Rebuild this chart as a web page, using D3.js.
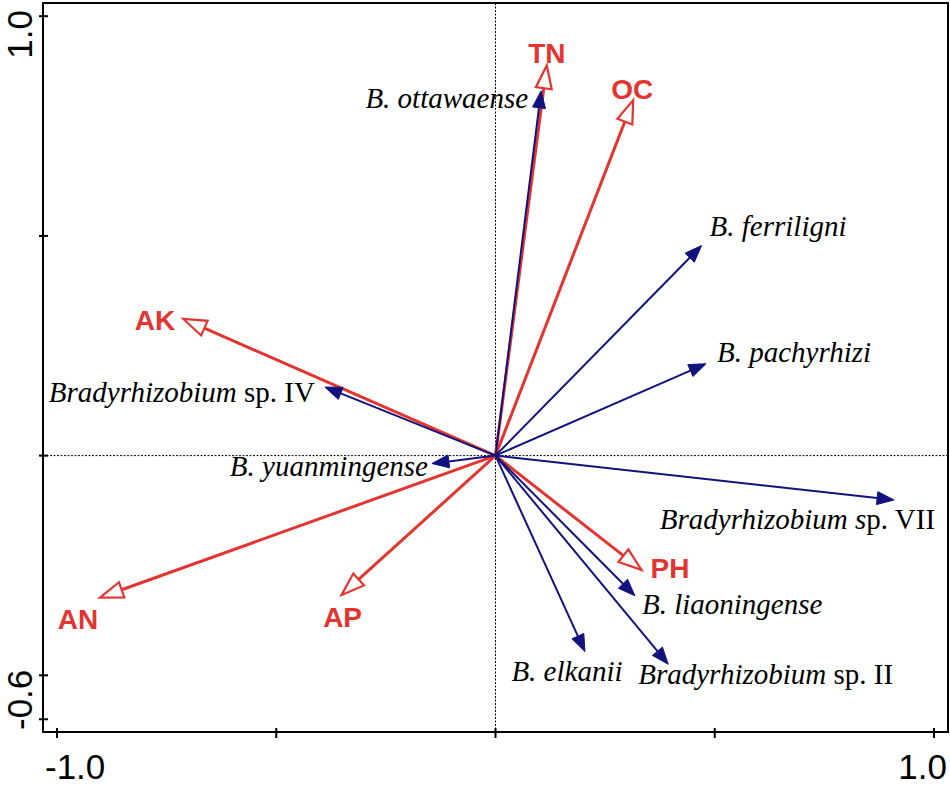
<!DOCTYPE html>
<html>
<head>
<meta charset="utf-8">
<script src="https://cdn.jsdelivr.net/npm/d3@7"></script>
<style>
  body { margin: 0; background: #fff; }
  svg { display: block; }
</style>
</head>
<body>
<svg id="chart" width="950" height="788"></svg>
<script>
// environmental variables (red, open heads)
const envNames = ['TN', 'OC', 'AK', 'AN', 'AP', 'PH'];
const envX = [0.117, 0.314, -0.712, -0.902, -0.351, 0.333];
const envY = [0.888, 0.809, 0.311, -0.323, -0.317, -0.260];

// species (blue, filled heads): italic part + plain part of the label
const spItalic = ['B. ottawaense', 'B. ferriligni', 'B. pachyrhizi', 'Bradyrhizobium', 'B. yuanmingense',
                  'Bradyrhizobium s', 'B. liaoningense', 'B. elkanii', 'Bradyrhizobium'];
const spPlain  = ['', '', '', ' sp. IV', '', 'p. VII', '', '', ' sp. II'];
const spX = [0.104, 0.470, 0.480, -0.389, -0.145, 0.909, 0.318, 0.204, 0.394];
const spY = [0.830, 0.478, 0.209, 0.156, -0.018, -0.101, -0.319, -0.446, -0.475];

const xTicks = [-1.0, -0.5, 0, 0.5, 1.0];
const yTicks = [1.0, 0.5, 0, -0.5, -0.6];
const xTickLabels = ['-1.0', '1.0'];
const yTickLabels = ['1.0', '-0.6'];

const red = '#e4342f';
const navy = '#12127e';

// label placement relative to arrow tip: [dx, dy, anchor]
const envLabelPos = {
  TN: [0, -2, 'middle'], OC: [-1, -1, 'middle'], AK: [-8, 11, 'end'],
  AN: [-22, 31, 'middle'], AP: [1, 32, 'middle'], PH: [9, 8, 'start'],
};
const spLabelPos = [
  [-13, 17, 'end'], [8, -10, 'start'], [11, -2, 'start'], [-10, 15, 'end'], [-4, 12, 'end'],
  [41, 29, 'end'], [7, 18, 'start'], [-18, 29, 'middle'], [-30, 20, 'start'],
];

const svg = d3.select('#chart');
const L = 43, R = 948, T = 3, B = 732;

const x = d3.scaleLinear().domain([-1.032, 1.032]).range([L, R]);
const y = d3.scaleLinear().domain([-0.629, 1.03]).range([B, T]);

// zero lines
svg.append('line')
  .attr('x1', x(0)).attr('x2', x(0)).attr('y1', T).attr('y2', B)
  .attr('stroke', '#000').attr('stroke-width', 1).attr('stroke-dasharray', '2,1.5');
svg.append('line')
  .attr('x1', L).attr('x2', R).attr('y1', y(0)).attr('y2', y(0))
  .attr('stroke', '#000').attr('stroke-width', 1).attr('stroke-dasharray', '2,1.5');

// frame
svg.append('rect')
  .attr('x', L).attr('y', T).attr('width', R - L).attr('height', B - T)
  .attr('fill', 'none').attr('stroke', '#000').attr('stroke-width', 2);

// ticks
svg.selectAll('.xt').data(xTicks).enter().append('line')
  .attr('x1', d => x(d)).attr('x2', d => x(d)).attr('y1', B - 4).attr('y2', B + 6)
  .attr('stroke', '#000').attr('stroke-width', 2);
svg.selectAll('.yt').data(yTicks).enter().append('line')
  .attr('y1', d => y(d)).attr('y2', d => y(d)).attr('x1', L - 4).attr('x2', L + 5)
  .attr('stroke', '#000').attr('stroke-width', 2);

// tick labels, pushed to the frame ends
const tickFont = '"Liberation Sans", Arial, sans-serif';
svg.append('text').text(xTickLabels[0])
  .attr('x', L + 2).attr('y', 779).attr('text-anchor', 'start')
  .style('font-family', tickFont).style('font-size', '35px');
svg.append('text').text(xTickLabels[1])
  .attr('x', R - 1).attr('y', 779).attr('text-anchor', 'end')
  .style('font-family', tickFont).style('font-size', '35px');
svg.append('text').text(yTickLabels[0])
  .attr('transform', `translate(32, ${T + 7}) rotate(-90)`).attr('text-anchor', 'end')
  .style('font-family', tickFont).style('font-size', '35px');
svg.append('text').text(yTickLabels[1])
  .attr('transform', `translate(32, ${B - 2}) rotate(-90)`).attr('text-anchor', 'start')
  .style('font-family', tickFont).style('font-size', '35px');

// arrow: shaft stops at the base of the head
const arrow = function(g, x1, y1, color, width, headLen, headHalf, open) {
  const x0 = x(0), y0 = y(0);
  const dx = x1 - x0, dy = y1 - y0;
  const len = Math.sqrt(dx * dx + dy * dy);
  const ux = dx / len, uy = dy / len;
  const bx = x1 - ux * headLen, by = y1 - uy * headLen;
  g.append('line')
    .attr('x1', x0).attr('y1', y0).attr('x2', bx).attr('y2', by)
    .attr('stroke', color).attr('stroke-width', width);
  const pts = [
    [x1, y1],
    [bx - uy * headHalf, by + ux * headHalf],
    [bx + uy * headHalf, by - ux * headHalf],
  ];
  g.append('path')
    .attr('d', d3.line()(pts) + 'Z')
    .attr('fill', open ? '#fff' : color)
    .attr('stroke', color)
    .attr('stroke-width', open ? 2.2 : 1)
    .attr('stroke-linejoin', 'miter');
};

const envG = svg.append('g');
envNames.forEach((n, i) => {
  arrow(envG, x(envX[i]), y(envY[i]), red, 3, 23, 8, true);
});

const spG = svg.append('g');
spItalic.forEach((n, i) => {
  arrow(spG, x(spX[i]), y(spY[i]), navy, 2, 17, 6.5, false);
});

// labels
envNames.forEach((n, i) => {
  const p = envLabelPos[n];
  svg.append('text').text(n)
    .attr('x', x(envX[i]) + p[0]).attr('y', y(envY[i]) + p[1])
    .attr('text-anchor', p[2])
    .attr('fill', red)
    .style('font-family', tickFont).style('font-weight', 'bold').style('font-size', '28px');
});

spItalic.forEach((n, i) => {
  const p = spLabelPos[i];
  const t = svg.append('text')
    .attr('x', x(spX[i]) + p[0]).attr('y', y(spY[i]) + p[1])
    .attr('text-anchor', p[2])
    .attr('fill', '#000')
    .style('font-family', '"Liberation Serif", "Times New Roman", serif').style('font-size', '29px');
  t.append('tspan').text(n).style('font-style', 'italic');
  if (spPlain[i]) t.append('tspan').text(spPlain[i]).style('font-style', 'normal');
});
</script>
</body>
</html>
